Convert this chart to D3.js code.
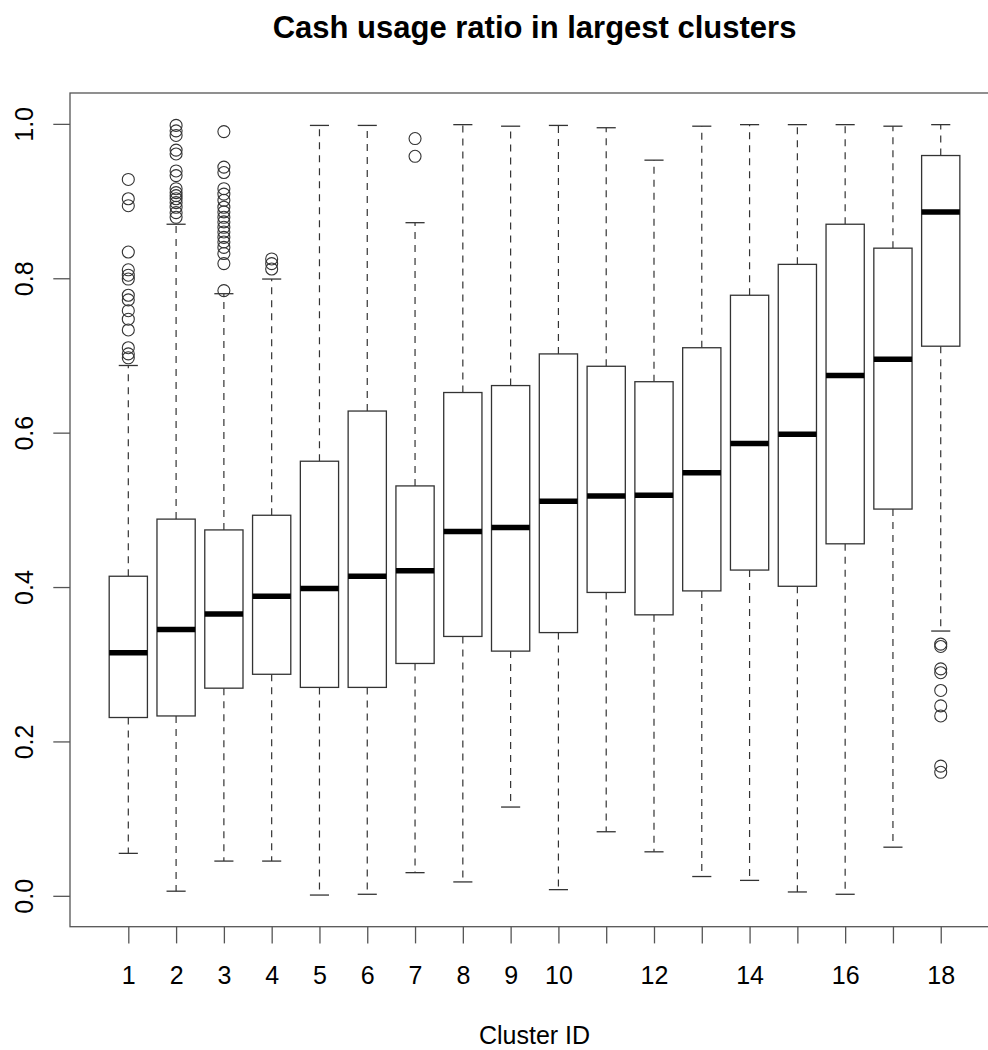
<!DOCTYPE html>
<html>
<head>
<meta charset="utf-8">
<script src="https://cdn.jsdelivr.net/npm/d3@7"></script>
<style>
  html, body { margin: 0; padding: 0; background: #fff; }
  svg { display: block; }
  text { font-family: "Liberation Sans", Arial, sans-serif; fill: #000; }
</style>
</head>
<body>
<svg id="chart" width="988" height="1050"></svg>
<script>
// Cash usage ratio per cluster: five-number summaries plus outliers
const clusters = [1, 2, 3, 4, 5, 6, 7, 8, 9, 10, 11, 12, 13, 14, 15, 16, 17, 18];
const whiskerLow  = [0.055, 0.006, 0.045, 0.045, 0.001, 0.002, 0.030, 0.018, 0.115, 0.008, 0.083, 0.057, 0.025, 0.020, 0.005, 0.002, 0.063, 0.343];
const q1          = [0.231, 0.233, 0.269, 0.287, 0.270, 0.270, 0.301, 0.336, 0.317, 0.341, 0.393, 0.364, 0.395, 0.422, 0.401, 0.456, 0.501, 0.712];
const medians     = [0.315, 0.345, 0.365, 0.388, 0.398, 0.414, 0.421, 0.472, 0.477, 0.511, 0.518, 0.519, 0.548, 0.586, 0.598, 0.674, 0.695, 0.886];
const q3          = [0.414, 0.488, 0.474, 0.493, 0.563, 0.628, 0.531, 0.652, 0.661, 0.702, 0.686, 0.666, 0.710, 0.778, 0.818, 0.870, 0.839, 0.959];
const whiskerHigh = [0.687, 0.870, 0.780, 0.799, 0.998, 0.998, 0.872, 0.999, 0.997, 0.998, 0.995, 0.953, 0.997, 0.999, 0.999, 0.999, 0.997, 0.999];
const outliers = [
  [0.928, 0.903, 0.894, 0.834, 0.811, 0.804, 0.799, 0.778, 0.772, 0.758, 0.747, 0.733, 0.710, 0.702, 0.697],
  [0.998, 0.991, 0.985, 0.966, 0.961, 0.939, 0.933, 0.916, 0.911, 0.907, 0.903, 0.898, 0.892, 0.885, 0.879],
  [0.990, 0.944, 0.937, 0.916, 0.909, 0.901, 0.892, 0.886, 0.879, 0.873, 0.866, 0.860, 0.853, 0.847, 0.840, 0.832, 0.819, 0.784],
  [0.825, 0.819, 0.812],
  [], [],
  [0.981, 0.958],
  [], [], [], [], [], [], [], [], [], [],
  [0.326, 0.323, 0.294, 0.289, 0.266, 0.246, 0.233, 0.168, 0.160]
];
const yTicks = [0, 0.2, 0.4, 0.6, 0.8, 1.0];
const xTickLabels = ["1", "2", "3", "4", "5", "6", "7", "8", "9", "10", "", "12", "", "14", "", "16", "", "18"];

const title = "Cash usage ratio in largest clusters";
const xTitle = "Cluster ID";

const svg = d3.select("#chart");

// plot region (right edge falls just outside the canvas)
const plotLeft = 70, plotTop = 93, plotBottom = 926.7;
const unit = 47.79;
const xDomain = [0.5 - 0.72, 18.5 + 0.72];
const x = d3.scaleLinear().domain(xDomain).range([plotLeft, plotLeft + (xDomain[1] - xDomain[0]) * unit]);
const y = d3.scaleLinear().domain([-0.04, 1.04]).range([plotBottom, plotTop]);

const boxHalf = 0.4;     // half box width in cluster units
const stapleHalf = 0.2;  // half staple width

const lineCol = "#333";

// frame
svg.append("rect")
  .attr("x", x.range()[0]).attr("y", plotTop)
  .attr("width", x.range()[1] - x.range()[0]).attr("height", plotBottom - plotTop)
  .attr("fill", "none").attr("stroke", "#555").attr("stroke-width", 1.3);

// y axis
const yAxis = svg.append("g").attr("transform", `translate(${plotLeft},0)`)
  .call(d3.axisLeft(y).tickValues(yTicks).tickSize(16.7).tickFormat(d3.format(".1f")));
yAxis.select(".domain").remove();
yAxis.selectAll(".tick line").attr("stroke", "#555").attr("stroke-width", 1.3);
yAxis.selectAll(".tick text").remove();
yAxis.selectAll(".tick").append("text")
  .attr("transform", "translate(-37,0) rotate(-90)")
  .attr("text-anchor", "middle")
  .attr("font-size", 25)
  .text(d => d3.format(".1f")(d));

// x axis
const xAxis = svg.append("g").attr("transform", `translate(0,${plotBottom})`)
  .call(d3.axisBottom(x).tickValues(clusters).tickSize(16.7).tickFormat((d, i) => xTickLabels[i]));
xAxis.select(".domain").remove();
xAxis.selectAll(".tick line").attr("stroke", "#555").attr("stroke-width", 1.3);
xAxis.selectAll(".tick text")
  .attr("y", 57).attr("dy", null)
  .attr("font-size", 25)
  .style("font-family", "'Liberation Sans', Arial, sans-serif")
  .attr("fill", "#000");

// boxes
const g = svg.append("g");
clusters.forEach((c, i) => {
  const cx = x(c);
  const bx0 = x(c - boxHalf), bx1 = x(c + boxHalf);
  const sx0 = x(c - stapleHalf), sx1 = x(c + stapleHalf);

  // dashed whiskers
  g.append("line").attr("x1", cx).attr("x2", cx)
    .attr("y1", y(q3[i])).attr("y2", y(whiskerHigh[i]))
    .attr("stroke", lineCol).attr("stroke-width", 1.2).attr("stroke-dasharray", "7,6");
  g.append("line").attr("x1", cx).attr("x2", cx)
    .attr("y1", y(q1[i])).attr("y2", y(whiskerLow[i]))
    .attr("stroke", lineCol).attr("stroke-width", 1.2).attr("stroke-dasharray", "7,6");

  // staples
  [whiskerHigh[i], whiskerLow[i]].forEach(v => {
    g.append("line").attr("x1", sx0).attr("x2", sx1)
      .attr("y1", y(v)).attr("y2", y(v))
      .attr("stroke", lineCol).attr("stroke-width", 1.3);
  });

  // box
  g.append("rect")
    .attr("x", bx0).attr("y", y(q3[i]))
    .attr("width", bx1 - bx0).attr("height", y(q1[i]) - y(q3[i]))
    .attr("fill", "#fff").attr("stroke", lineCol).attr("stroke-width", 1.3);

  // median
  g.append("line").attr("x1", bx0).attr("x2", bx1)
    .attr("y1", y(medians[i])).attr("y2", y(medians[i]))
    .attr("stroke", "#000").attr("stroke-width", 5.5);

  // outliers
  g.selectAll(null).data(outliers[i]).enter().append("circle")
    .attr("cx", cx).attr("cy", d => y(d)).attr("r", 6)
    .attr("fill", "none").attr("stroke", lineCol).attr("stroke-width", 1.1);
});

// titles
const midX = (x.range()[0] + x.range()[1]) / 2;
svg.append("text")
  .attr("x", midX).attr("y", 38)
  .attr("text-anchor", "middle")
  .attr("font-size", 31).attr("font-weight", "bold")
  .text(title);

svg.append("text")
  .attr("x", midX).attr("y", 1044)
  .attr("text-anchor", "middle")
  .attr("font-size", 25)
  .text(xTitle);
</script>
</body>
</html>
